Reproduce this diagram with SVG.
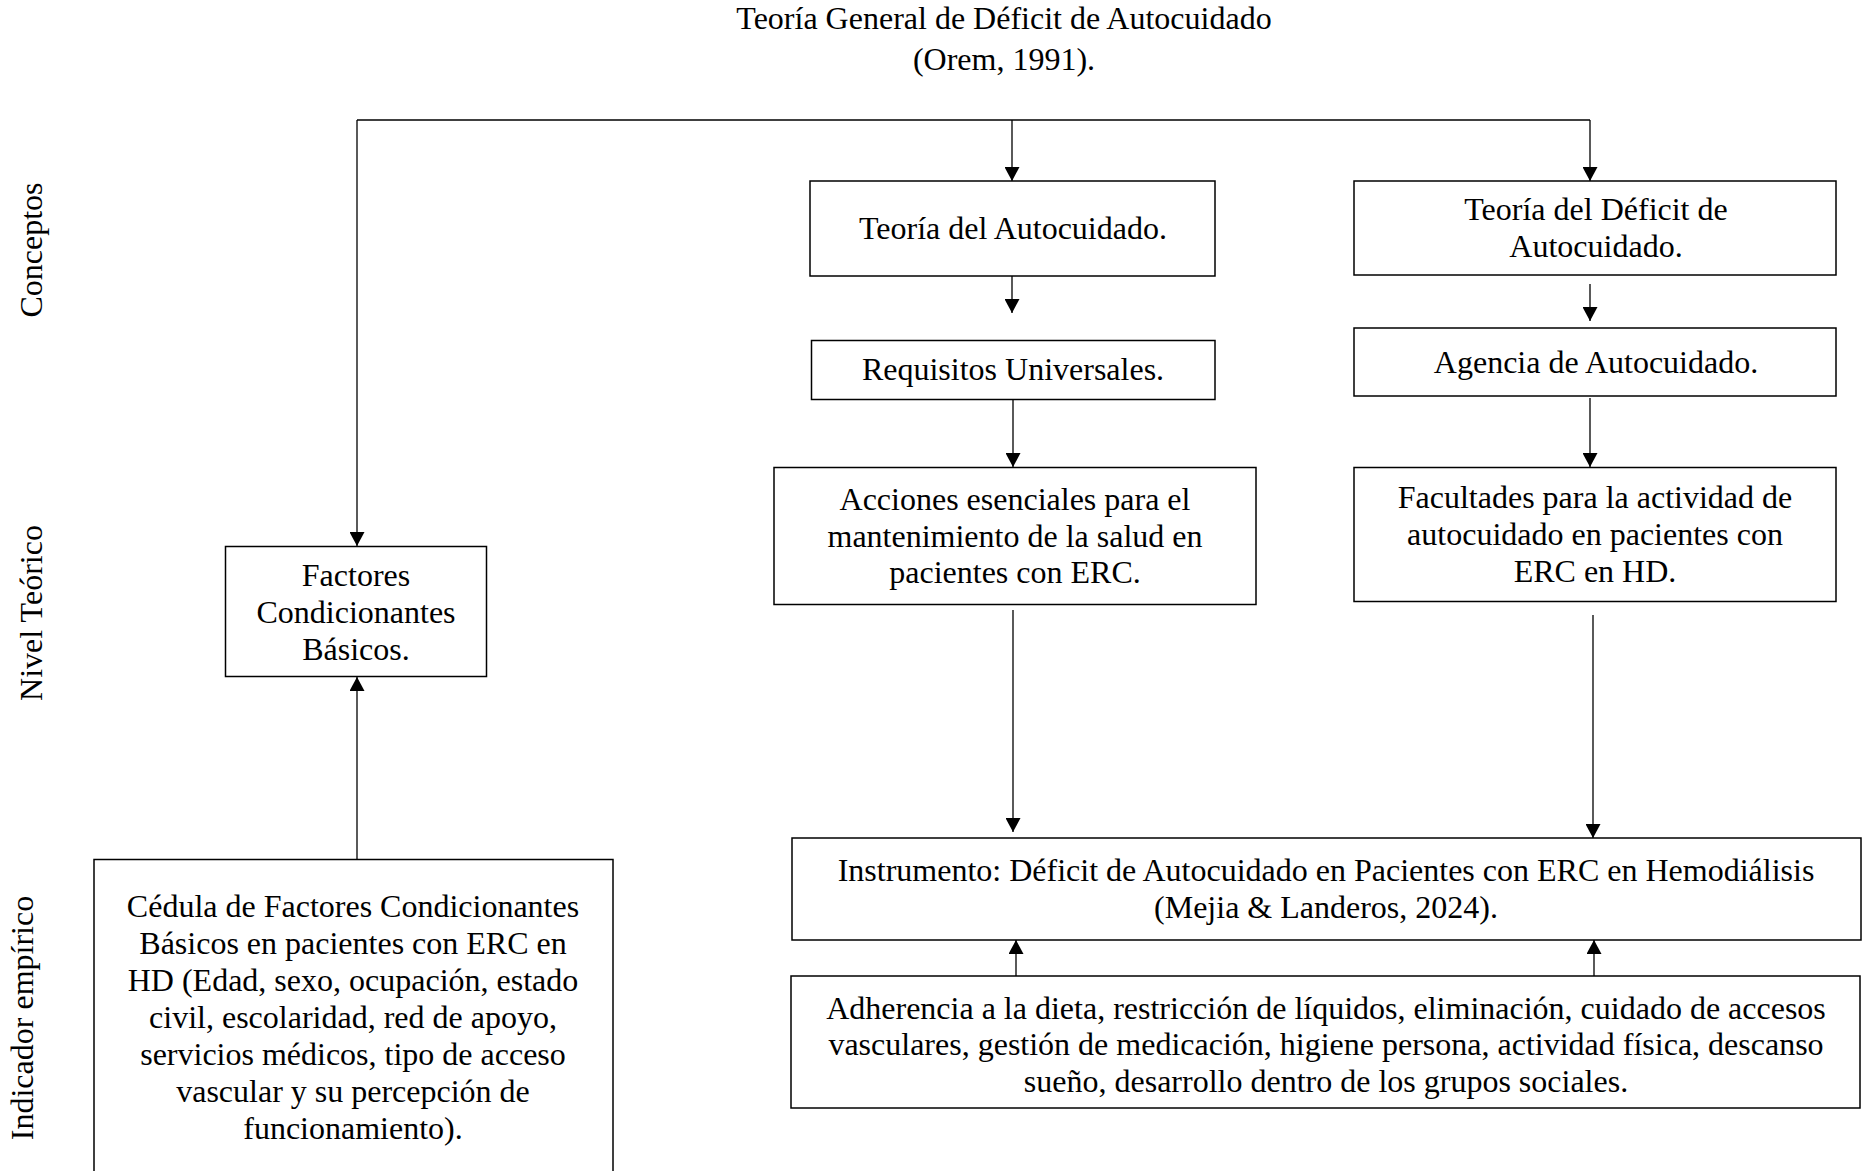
<svg xmlns="http://www.w3.org/2000/svg" width="1866" height="1171" viewBox="0 0 1866 1171">
<style>
text{font-family:"Liberation Serif","Times New Roman",serif;font-size:32px;fill:#000;text-anchor:middle}
.box{fill:#fff;stroke:#000;stroke-width:1.5}
.ln{fill:none;stroke:#000;stroke-width:1.3}
.arr{fill:none;stroke:#000;stroke-width:1.3;marker-end:url(#ah)}
</style>
<defs>
<marker id="ah" markerUnits="userSpaceOnUse" markerWidth="15" markerHeight="15" refX="14" refY="7.5" orient="auto">
<path d="M0,0 L14,7.5 L0,15 z" fill="#000"/>
</marker>
</defs>
<rect width="1866" height="1171" fill="#fff"/>
<g id="title">
<text x="1004" y="28.5">Teoría General de Déficit de Autocuidado</text>
<text x="1004" y="70">(Orem, 1991).</text>
</g>
<g id="side-labels">
<text transform="translate(42,250) rotate(-90)">Conceptos</text>
<text transform="translate(42,613) rotate(-90)">Nivel Teórico</text>
<text transform="translate(33,1018) rotate(-90)">Indicador empírico</text>
</g>
<g id="connectors">
<path class="ln" d="M357,120 H1590"/>
<path class="arr" d="M357,120 V546"/>
<path class="arr" d="M1012,120 V181"/>
<path class="arr" d="M1590,120 V181"/>
<path class="arr" d="M1012,276 V313"/>
<path class="arr" d="M1013,400 V467"/>
<path class="arr" d="M1590,284 V321"/>
<path class="arr" d="M1590,398 V467"/>
<path class="arr" d="M1013,610 V832"/>
<path class="arr" d="M1593,615 V838"/>
<path class="arr" d="M1016,976 V940"/>
<path class="arr" d="M1594,976 V940"/>
<path class="arr" d="M357,860 V677"/>
</g>
<g id="factores">
<rect class="box" x="225.5" y="546.5" width="261" height="130"/>
<text x="356" y="586">Factores</text>
<text x="356" y="623">Condicionantes</text>
<text x="356" y="660">Básicos.</text>
</g>
<g id="cedula">
<rect class="box" x="94" y="859.5" width="519" height="330"/>
<text x="353" y="917">Cédula de Factores Condicionantes</text>
<text x="353" y="954">Básicos en pacientes con ERC en</text>
<text x="353" y="991">HD (Edad, sexo, ocupación, estado</text>
<text x="353" y="1028">civil, escolaridad, red de apoyo,</text>
<text x="353" y="1065">servicios médicos, tipo de acceso</text>
<text x="353" y="1102">vascular y su percepción de</text>
<text x="353" y="1139">funcionamiento).</text>
</g>
<g id="teoria-autocuidado">
<rect class="box" x="810" y="181" width="405" height="95"/>
<text x="1013" y="238.5">Teoría del Autocuidado.</text>
</g>
<g id="requisitos">
<rect class="box" x="811.5" y="340.5" width="403.5" height="59"/>
<text x="1013" y="380">Requisitos Universales.</text>
</g>
<g id="acciones">
<rect class="box" x="774" y="467.5" width="482" height="137"/>
<text x="1015" y="510">Acciones esenciales para el</text>
<text x="1015" y="546.5">mantenimiento de la salud en</text>
<text x="1015" y="583">pacientes con ERC.</text>
</g>
<g id="teoria-deficit">
<rect class="box" x="1354" y="181" width="482" height="94"/>
<text x="1596" y="220">Teoría del Déficit de</text>
<text x="1596" y="257">Autocuidado.</text>
</g>
<g id="agencia">
<rect class="box" x="1354" y="328" width="482" height="68"/>
<text x="1596" y="373">Agencia de Autocuidado.</text>
</g>
<g id="facultades">
<rect class="box" x="1354" y="467.5" width="482" height="134"/>
<text x="1595" y="508">Facultades para la actividad de</text>
<text x="1595" y="545">autocuidado en pacientes con</text>
<text x="1595" y="582">ERC en HD.</text>
</g>
<g id="instrumento">
<rect class="box" x="792" y="838" width="1069" height="102"/>
<text x="1326" y="880.5">Instrumento: Déficit de Autocuidado en Pacientes con ERC en Hemodiálisis</text>
<text x="1326" y="918">(Mejia &amp; Landeros, 2024).</text>
</g>
<g id="adherencia">
<rect class="box" x="791" y="976" width="1069" height="132"/>
<text x="1326" y="1018.5">Adherencia a la dieta, restricción de líquidos, eliminación, cuidado de accesos</text>
<text x="1326" y="1055">vasculares, gestión de medicación, higiene persona, actividad física, descanso</text>
<text x="1326" y="1091.5">sueño, desarrollo dentro de los grupos sociales.</text>
</g>
</svg>
